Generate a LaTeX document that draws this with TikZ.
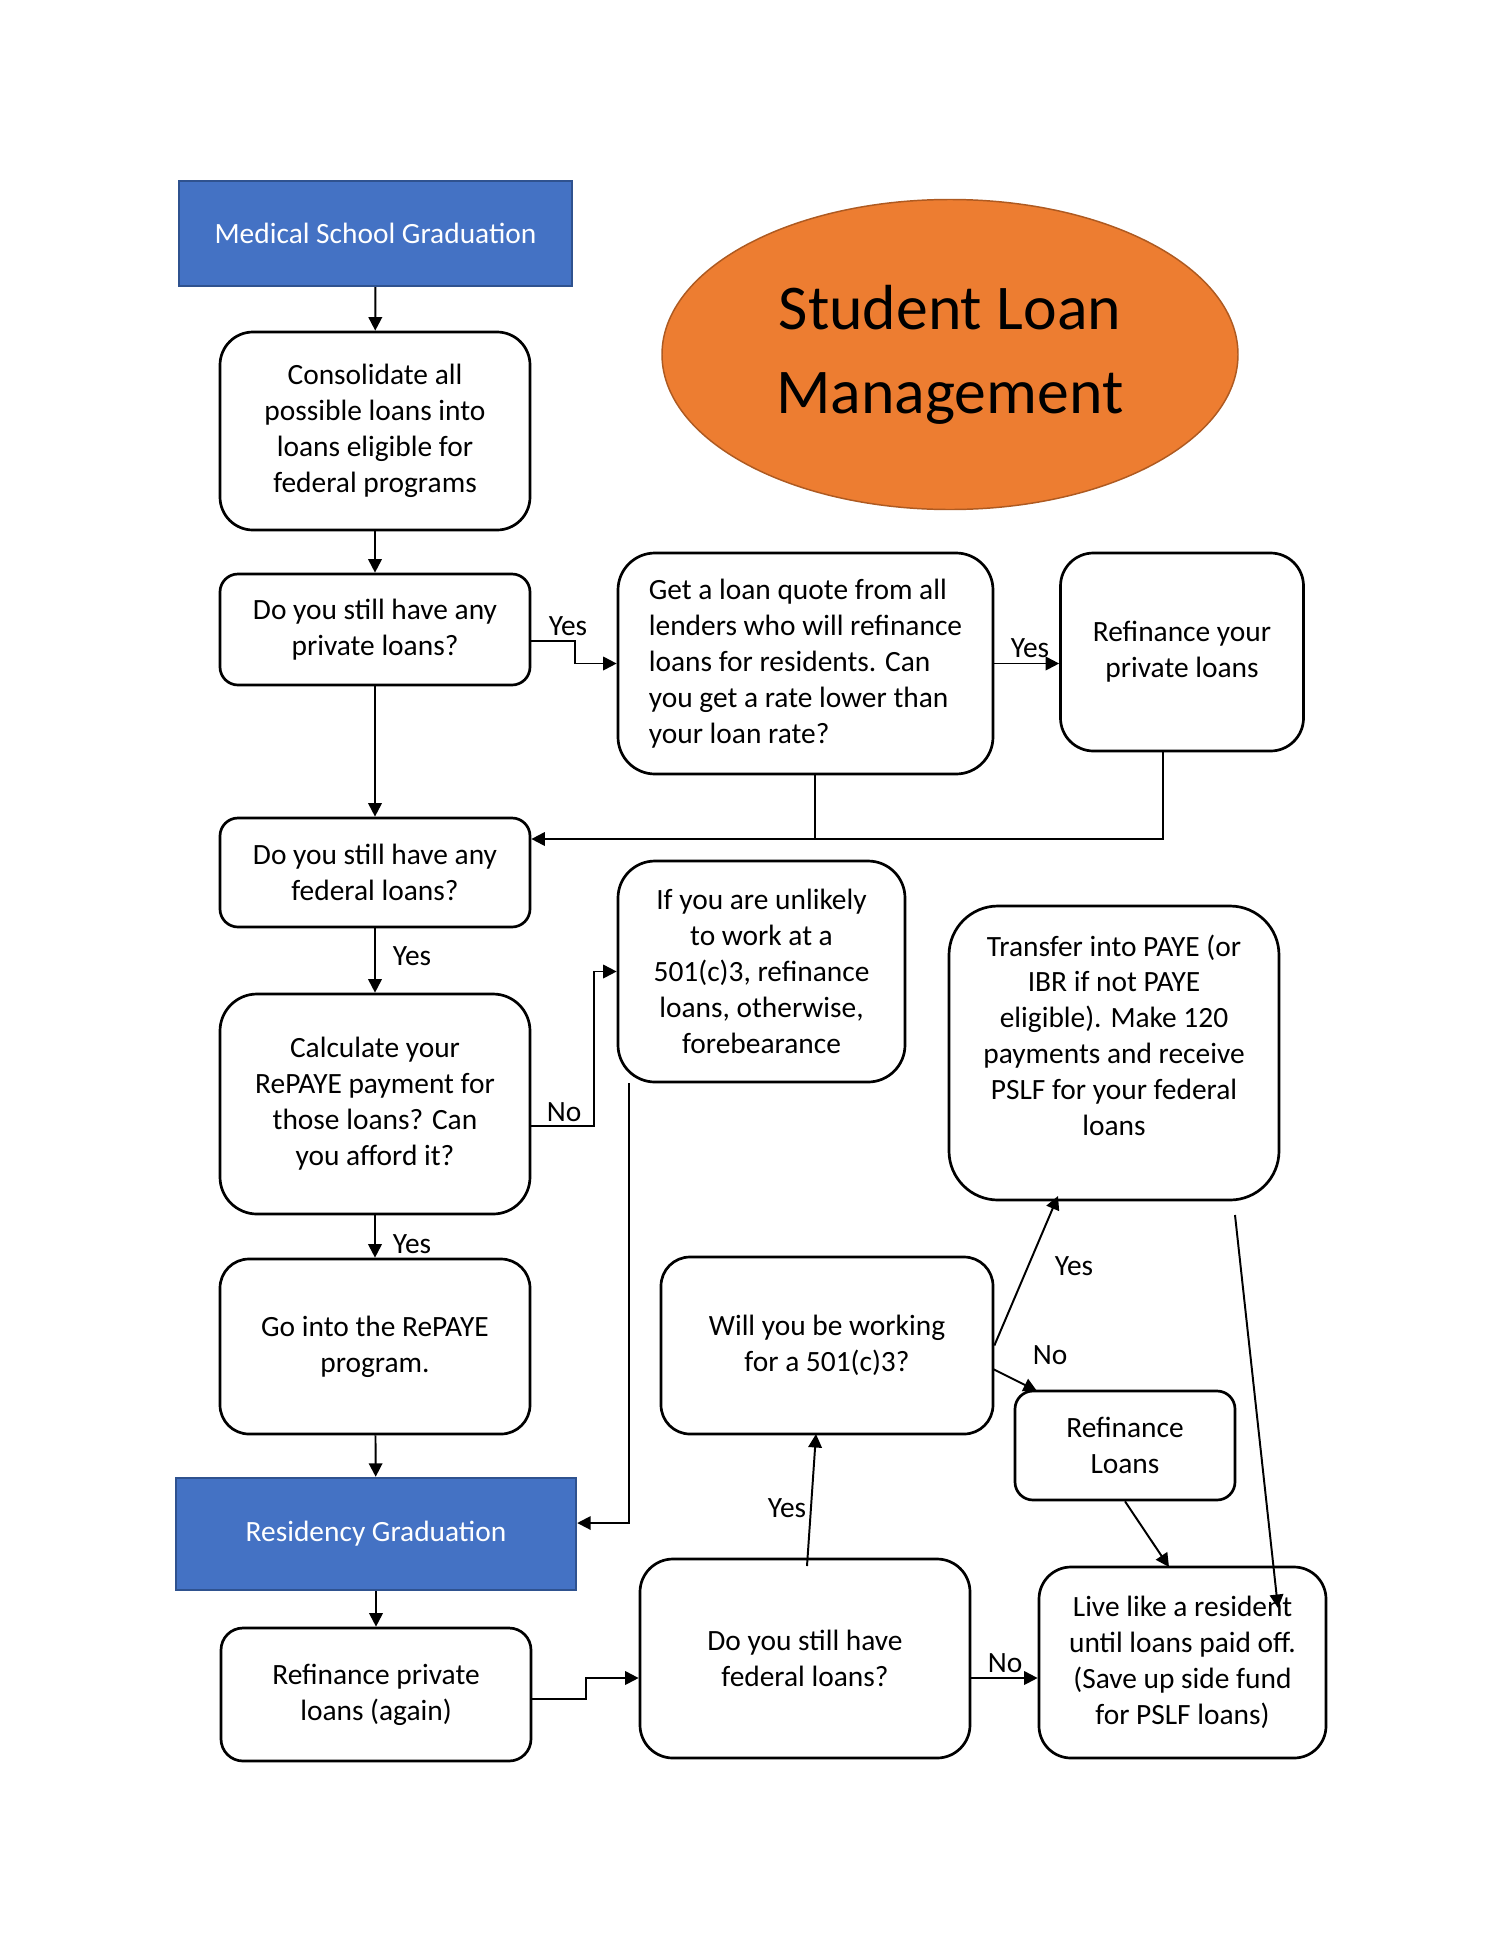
\documentclass[tikz,border=0pt]{standalone}
\usepackage{fontspec}
\setmainfont{Carlito}
\usetikzlibrary{shapes.geometric,arrows.meta}
\definecolor{wblue}{HTML}{4472C4}
\definecolor{wblueline}{HTML}{2F528F}
\definecolor{worange}{HTML}{ED7D31}
\definecolor{worangeline}{HTML}{AE5A21}
\begin{document}
\begin{tikzpicture}[x=0.408pt,y=-0.408pt,
  every node/.style={font=\fontsize{12}{14.65}\selectfont},
  box/.style={draw, line width=1.1pt, align=center, inner sep=0pt},
  sz/.style 2 args={minimum width=#1*0.408pt, minimum height=#2*0.408pt},
  rc/.style={rounded corners=#1*0.408pt},
  bluebox/.style={draw=wblueline, fill=wblue, text=white, line width=1pt, inner sep=0pt},
  conn/.style={line width=0.8pt},
  arr/.style={conn, -{Triangle[length=5.5pt,width=5.5pt]}},
  lbl/.style={inner sep=0pt}
]
\fill[white] (0,0) rectangle (1500,1941);
\useasboundingbox (0,0) rectangle (1500,1941);

% title
\node[ellipse, draw=worangeline, fill=worange, line width=0.6pt, sz={576}{310}, inner sep=0pt, align=center, font=\fontsize{26}{34.2}\selectfont] (title) at (950,354.5) {Student Loan\\Management};

% boxes
\node[bluebox, sz={393}{105}] (med) at (375.5,233.5) {Medical School Graduation};
\node[box, rc=33, sz={310}{198}] (cons) at (375,431) {Consolidate all\\possible loans into\\loans eligible for\\federal programs};
\node[box, rc=18, sz={310}{111}] (priv) at (375,629.5) {Do you still have any\\private loans?};
\node[box, rc=37, sz={375}{221}, align=left] (quote) at (805.5,663.5) {Get a loan quote from all\\lenders who will refinance\\loans for residents. Can\\you get a rate lower than\\your loan rate?};
\node[box, rc=33, sz={243}{198}] (refi) at (1182,652) {Refinance your\\private loans};
\node[box, rc=18, sz={310}{109}] (fed) at (375,872.5) {Do you still have any\\federal loans?};
\node[box, rc=37, sz={287}{221}] (unlikely) at (761.5,971.5) {If you are unlikely\\to work at a\\501(c)3, refinance\\loans, otherwise,\\forebearance};
\node[box, rc=37, sz={310}{220}] (calc) at (375,1104) {Calculate your\\RePAYE payment for\\those loans? Can\\you afford it?};
\node[box, rc=49, sz={330}{294}] (transfer) at (1114,1053) {Transfer into PAYE (or\\IBR if not PAYE\\eligible). Make 120\\payments and receive\\PSLF for your federal\\loans\\\mbox{}};
\node[box, rc=29, sz={310}{175}] (gointo) at (375,1346.5) {Go into the RePAYE\\program.};
\node[box, rc=29, sz={332}{177}] (will) at (827,1345.5) {Will you be working\\for a 501(c)3?};
\node[box, rc=18, sz={220}{109}] (refiloans) at (1125,1445.5) {Refinance\\Loans};
\node[bluebox, sz={400}{112}] (res) at (376,1534) {Residency Graduation};
\node[box, rc=22, sz={310}{133}] (again) at (376,1694.5) {Refinance private\\loans (again)};
\node[box, rc=33, sz={330}{199}] (stillfed) at (805,1658.5) {Do you still have\\federal loans?};
\node[box, rc=32, sz={287}{191}] (live) at (1182.5,1662.5) {Live like a resident\\until loans paid off.\\(Save up side fund\\for PSLF loans)};

% helper coordinates
\coordinate (j1) at (815,839);
\coordinate (j2) at (1163,839);
\coordinate (j3) at (629,1523);
\coordinate (k1) at (586,1699);
\coordinate (k2) at (586,1678);
\coordinate (s1) at (807,1566);
\coordinate (s2) at (816,1434);
\coordinate (t1) at (1058,1196);
\coordinate (n1) at (993,1369);
\coordinate (n2) at (1037,1391);
\coordinate (r1) at (1169,1567);
\coordinate (p1) at (1235,1215);
\coordinate (p2) at (1278,1608);

% connectors
\draw[arr] (med) -- (cons);
\draw[arr] (cons) -- (priv);
\draw[arr] ([yshift=-4.7pt]priv.east) -- ++(44,0) |- (quote.west);
\draw[arr] (quote.east) -- (refi.west |- quote.east);
\draw[arr] (priv) -- (fed);
\draw[conn] (refi.south -| j2) -- (j2) -- (j1);
\draw[arr] (quote.south -| j1) -- (j1) -- (fed.east |- j1);
\draw[arr] (fed) -- (calc);
\draw[arr] ([yshift=-8.8pt]calc.east) -- ++(63,0) |- (unlikely.west);
\draw[arr] (calc) -- (gointo);
\draw[arr] (gointo) -- (res);
\draw[arr] (unlikely.south -| j3) -- (j3) -- (res.east |- j3);
\draw[arr] (res) -- (again);
\draw[arr] (again.east |- k1) -- (k1) -- (k2) -- (stillfed.west |- k2);
\draw[arr] (stillfed.east |- k2) -- (live.west |- k2);
\draw[arr] (s1) -- (s2);
\draw[arr] (will.east) -- (t1);
\draw[arr] (n1) -- (n2);
\draw[arr] (refiloans.south) -- (r1);
\draw[arr] (p1) -- (p2);

% labels
\node[lbl] (l1) at (568,626) {Yes};
\node[lbl] (l2) at (1030,648) {Yes};
\node[lbl] (l3) at (412,956) {Yes};
\node[lbl] (l4) at (564,1112) {No};
\node[lbl] (l5) at (412,1244) {Yes};
\node[lbl] (l6) at (1074,1266) {Yes};
\node[lbl] (l7) at (1050,1355) {No};
\node[lbl] (l8) at (787,1508) {Yes};
\node[lbl] (l9) at (1005,1663) {No};
\end{tikzpicture}
\end{document}
